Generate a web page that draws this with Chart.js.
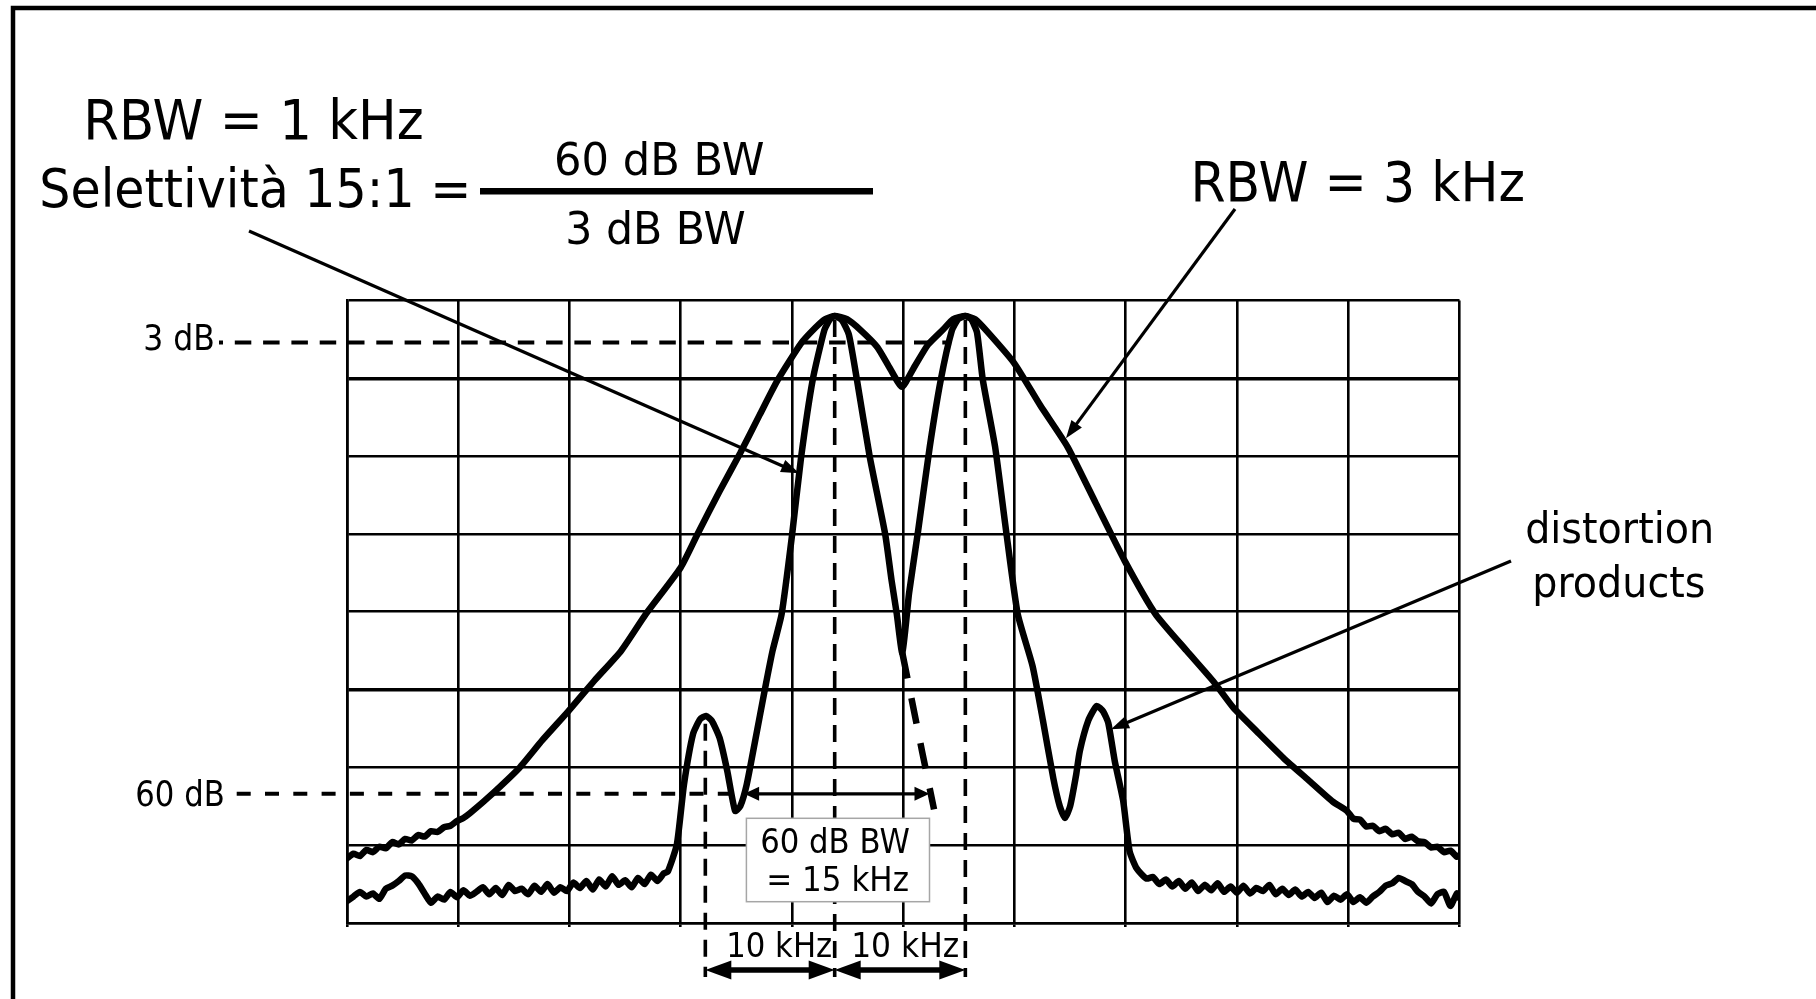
<!DOCTYPE html>
<html><head><meta charset="utf-8">
<script src="https://cdn.jsdelivr.net/npm/chart.js@4"></script>
<style>html,body{margin:0;padding:0;background:#fff;} canvas{display:block;}</style>
</head><body>
<canvas id="c" width="1816" height="999"></canvas>
<script>
// ---- Data (frequency offset in kHz, level in dB relative to the tone peaks) ----
const wideKHz = [-42.7,-42.2,-41.7,-41.2,-40.7,-40.2,-39.7,-39.2,-38.7,-38.2,-37.7,-37.2,-36.7,-36.2,-35.7,-35.2,-34.7,-34.2,-33.7,-33.2,
  -31.8,-29.4,-27.6,-25.6,-23.6,-21.5,-19.6,-16.9,-15.6,-13.9,-12.3,-10.8,-9.4,-7.6,-6.5,-5.75,-5.0,-4.05,-3.0,-1.7,-0.7,0.2,
  1.1,2.2,3.4,4.15,5.1,5.85,6.85,8.9,10.9,13.0,15.2,17.4,19.8,22.2,24.25,25.8,27.7,29.7,31.6,33.5,
  34.6,35.1,35.6,36.1,36.6,37.1,37.6,38.1,38.6,39.1,39.6,40.1,40.6,41.1,41.6,42.1,42.6,43.1,43.3];
const wideDB = [-69.7,-69.1,-69.4,-68.6,-68.9,-68.2,-68.4,-67.6,-67.9,-67.2,-67.4,-66.7,-66.9,-66.2,-66.3,-65.7,-65.5,-64.9,-64.5,-63.9,
  -61.9,-58.1,-54.5,-50.8,-46.9,-43.0,-38.3,-32.3,-28.0,-22.5,-17.6,-12.7,-8.2,-3.5,-1.5,-0.4,0.0,-0.4,-1.8,-4.0,-6.8,-9.1,
  -6.7,-3.7,-1.7,-0.4,0.0,-0.4,-2.1,-6.1,-11.5,-16.8,-24.1,-31.4,-38.3,-43.0,-46.9,-50.3,-53.5,-56.8,-59.6,-62.4,
  -63.6,-64.6,-64.7,-65.6,-65.5,-66.2,-65.9,-66.6,-66.4,-67.2,-66.9,-67.5,-67.6,-68.3,-68.2,-68.9,-68.7,-69.5,-69.3];

const narrowKHz = [-42.7,-42.2,-41.7,-41.2,-40.7,-40.2,-39.7,-39.2,-38.7,-38.2,-37.7,-37.2,-36.7,-36.2,-35.7,-35.2,-34.7,-34.2,-33.7,-33.2,
  -32.7,-32.2,-31.7,-31.2,-30.7,-30.2,-29.7,-29.2,-28.7,-28.2,-27.7,-27.2,-26.7,-26.2,-25.7,-25.2,-24.7,-24.2,-23.7,-23.2,
  -22.7,-22.2,-21.7,-21.2,-20.7,-20.2,-19.7,-19.2,-18.7,-18.2,-17.9,
  -17.2,-16.65,-15.95,-15.4,-14.95,-14.5,-13.9,-13.3,-12.7,-12.3,-11.8,-11.15,-10.4,-9.8,-9.1,-8.3,-7.6,-6.7,-5.8,-5.35,-5.0,
  -4.45,-3.9,-3.3,-2.3,-1.1,-0.6,-0.2,0.23,0.75,1.45,2.35,3.2,4.05,4.55,5.1,
  5.55,6.0,6.45,7.4,8.25,9.15,10.3,11.1,11.9,12.4,12.8,13.2,13.65,13.95,14.6,15.25,15.75,16.15,16.65,17.3,17.8,18.35,19.1,
  19.6,20.1,20.6,21.1,21.6,22.1,22.6,23.1,23.6,24.1,24.6,25.1,25.6,26.1,26.6,27.1,27.6,28.1,28.6,29.1,
  29.6,30.1,30.6,31.1,31.6,32.1,32.6,33.1,33.6,34.1,34.6,35.1,35.6,36.1,36.6,37.1,37.6,38.1,38.6,39.1,
  39.6,40.1,40.6,41.1,41.6,42.1,42.6,43.1,43.3];
const narrowDB = [-75.2,-74.6,-74.0,-74.6,-74.2,-74.9,-73.6,-73.2,-72.6,-71.9,-72.0,-72.9,-74.2,-75.4,-74.6,-75.0,-74.0,-74.7,-73.8,-74.5,
  -74.0,-73.4,-74.3,-73.5,-74.4,-73.1,-73.9,-73.6,-74.3,-73.2,-74.0,-73.0,-74.1,-73.4,-73.9,-72.8,-73.5,-72.6,-73.7,-72.4,
  -73.3,-72.0,-73.1,-72.5,-73.4,-72.2,-73.0,-71.8,-72.6,-71.6,-71.4,
  -67.9,-60.2,-53.7,-51.8,-51.4,-52.0,-54.2,-58.5,-63.6,-63.0,-60.2,-54.6,-48.0,-43.0,-38.3,-28.2,-18.2,-8.2,-1.8,-0.4,0.0,
  -0.5,-2.4,-8.0,-18.0,-28.0,-34.0,-38.3,-43.3,-35.6,-27.6,-16.8,-8.2,-1.9,-0.4,0.0,
  -0.4,-2.1,-8.2,-16.8,-27.6,-38.3,-45.0,-52.0,-59.4,-63.0,-64.5,-63.0,-59.1,-55.9,-52.0,-50.1,-50.8,-52.3,-57.2,-62.3,-68.8,-71.0,-72.3,
  -72.1,-73.0,-72.4,-73.3,-72.6,-73.6,-72.8,-73.9,-73.1,-73.8,-72.9,-74.0,-73.3,-74.1,-73.2,-74.2,-73.5,-73.9,-73.1,-74.3,
  -73.6,-74.4,-73.7,-74.6,-74.0,-74.8,-74.1,-75.3,-74.5,-75.0,-74.3,-75.3,-74.7,-75.4,-74.6,-74.0,-73.2,-72.9,-72.2,-72.6,
  -73.0,-74.0,-74.6,-75.5,-74.3,-74.0,-75.8,-74.2,-74.8];

// hidden skirt of the lower tone filter (dashed)
const skirtKHz = [0.23, 0.98, 1.75, 2.68];
const skirtDB  = [-43.3, -49.5, -55.9, -63.4];

// graticule
const xGridKHz = [-42.7,-34.1,-25.5,-16.9,-8.3,0.3,8.9,17.5,26.1,34.7,43.3];
const yGridDB  = [-78,-68,-58,-48,-38,-28,-18,-8,2];

// annotation values
const level3dB = -3.4, level3EndKHz = 4.0;
const level60dB = -61.4, bw60FromKHz = -12.0, bw60ToKHz = 2.33;
const toneKHz = [-5.0, 5.1];
const distortionKHz = -15.0, distortionPeakDB = -52.4, tonePeakDB = -0.5;
const ptrRBW1 = [-7.75, -20.2], ptrRBW3 = [12.88, -15.7], ptrDist = [16.36, -53.1];

const pts = (xs, ys) => xs.map((v, i) => ({x: v, y: ys[i]}));

function fitText(ctx, str, x1, x2, base, cap) {
  const size = cap / 0.729;
  ctx.font = size.toFixed(2) + 'px "DejaVu Sans"';
  ctx.textAlign = 'left'; ctx.textBaseline = 'alphabetic';
  const m = ctx.measureText(str);
  const ink = m.actualBoundingBoxLeft + m.actualBoundingBoxRight;
  const sx = (x2 - x1) / ink;
  ctx.save();
  ctx.translate(x1 + m.actualBoundingBoxLeft * sx, base);
  ctx.scale(sx, 1);
  ctx.fillText(str, 0, 0);
  ctx.restore();
}
function head(ctx, fx, fy, tx, ty, L, W) {
  const a = Math.atan2(ty - fy, tx - fx), c = Math.cos(a), s = Math.sin(a);
  const bx = tx - L * c, by = ty - L * s;
  ctx.beginPath();
  ctx.moveTo(tx, ty);
  ctx.lineTo(bx - W * s, by + W * c);
  ctx.lineTo(bx + W * s, by - W * c);
  ctx.closePath(); ctx.fill();
}
function pointer(ctx, fx, fy, tx, ty) {
  const L = 18, W = 6.5;
  const a = Math.atan2(ty - fy, tx - fx);
  ctx.lineWidth = 3.2; ctx.setLineDash([]);
  ctx.beginPath(); ctx.moveTo(fx, fy);
  ctx.lineTo(tx - (L - 3) * Math.cos(a), ty - (L - 3) * Math.sin(a)); ctx.stroke();
  head(ctx, fx, fy, tx, ty, L, W);
}
function dbl(ctx, x1, x2, y, lw, L, W) {
  ctx.lineWidth = lw; ctx.setLineDash([]);
  ctx.beginPath(); ctx.moveTo(x1 + L - 3, y); ctx.lineTo(x2 - L + 3, y); ctx.stroke();
  head(ctx, x2, y, x1, y, L, W);
  head(ctx, x1, y, x2, y, L, W);
}
function seg(ctx, x1, y1, x2, y2) { ctx.beginPath(); ctx.moveTo(x1, y1); ctx.lineTo(x2, y2); ctx.stroke(); }

const annot = {
  id: 'annot',
  beforeDatasetsDraw(chart) {
    const {ctx, scales: {x, y}, chartArea: a} = chart;
    ctx.save();
    ctx.strokeStyle = '#000'; ctx.lineCap = 'butt';
    ctx.lineWidth = 4;
    ctx.setLineDash([16.5, 11.8]); ctx.lineDashOffset = 12.5;
    seg(ctx, 219, y.getPixelForValue(level3dB), x.getPixelForValue(level3EndKHz), y.getPixelForValue(level3dB));
    ctx.setLineDash([14, 14.3]); ctx.lineDashOffset = 0;
    seg(ctx, 236.7, y.getPixelForValue(level60dB), x.getPixelForValue(bw60FromKHz), y.getPixelForValue(level60dB));
    ctx.lineWidth = 3.6; ctx.setLineDash([17, 10]);
    const yb = a.bottom + 54;
    seg(ctx, x.getPixelForValue(distortionKHz), y.getPixelForValue(distortionPeakDB), x.getPixelForValue(distortionKHz), yb);
    toneKHz.forEach(k => seg(ctx, x.getPixelForValue(k), y.getPixelForValue(tonePeakDB), x.getPixelForValue(k), yb));
    ctx.restore();
  },
  afterDraw(chart) {
    const {ctx, scales: {x, y}, chartArea: a} = chart;
    ctx.save();
    ctx.fillStyle = '#000'; ctx.strokeStyle = '#000';
    // pointer arrows
    pointer(ctx, 249, 231, x.getPixelForValue(ptrRBW1[0]), y.getPixelForValue(ptrRBW1[1]));
    pointer(ctx, 1235, 209, x.getPixelForValue(ptrRBW3[0]), y.getPixelForValue(ptrRBW3[1]));
    pointer(ctx, 1511, 561, x.getPixelForValue(ptrDist[0]), y.getPixelForValue(ptrDist[1]));
    // 60 dB bandwidth arrow
    dbl(ctx, x.getPixelForValue(bw60FromKHz), x.getPixelForValue(bw60ToKHz), y.getPixelForValue(level60dB), 3.4, 15, 7);
    // tone spacing arrows
    const ya = a.bottom + 47;
    dbl(ctx, x.getPixelForValue(distortionKHz), x.getPixelForValue(toneKHz[0]), ya, 5.5, 26, 9.5);
    dbl(ctx, x.getPixelForValue(toneKHz[0]), x.getPixelForValue(toneKHz[1]), ya, 5.5, 26, 9.5);
    // box
    ctx.fillStyle = '#fff'; ctx.fillRect(746.4, 818.3, 183.1, 83.4);
    ctx.strokeStyle = '#a6a6a6'; ctx.lineWidth = 1.5; ctx.setLineDash([]);
    ctx.strokeRect(746.4, 818.3, 183.1, 83.4);
    ctx.fillStyle = '#000';
    fitText(ctx, '60 dB BW', 762, 909, 853, 25);
    fitText(ctx, '= 15 kHz', 769, 908, 891, 25);
    // texts
    fitText(ctx, 'RBW = 1 kHz', 88, 422, 139, 40);
    fitText(ctx, 'Selettività 15:1 =', 42, 467, 207, 39);
    ctx.fillRect(480, 188, 393, 6.5);
    fitText(ctx, '60 dB BW', 557, 763, 175, 32);
    fitText(ctx, '3 dB BW', 568, 745, 244, 33);
    fitText(ctx, 'RBW = 3 kHz', 1195, 1523, 201, 40.5);
    fitText(ctx, 'distortion', 1527, 1711, 543, 31.5);
    fitText(ctx, 'products', 1535, 1704, 597, 31.5);
    fitText(ctx, '3 dB', 145, 213, 350, 25.5);
    fitText(ctx, '60 dB', 137, 223, 806, 25.5);
    fitText(ctx, '10 kHz', 729, 831, 957, 24);
    fitText(ctx, '10 kHz', 854, 958, 957, 24);
    // frame
    ctx.strokeStyle = '#000'; ctx.lineWidth = 4.5;
    ctx.strokeRect(13, 8, 1830, 1020);
    ctx.restore();
  }
};

const lineDs = (label, xs, ys, extra) => Object.assign({
  label, data: pts(xs, ys), borderColor: '#000', borderWidth: 6.5, pointRadius: 0,
  fill: false, tension: 0.18, borderJoinStyle: 'round', borderCapStyle: 'round'
}, extra || {});

new Chart(document.getElementById('c'), {
  type: 'line',
  data: {
    datasets: [
      lineDs('RBW = 3 kHz', wideKHz, wideDB),
      lineDs('RBW = 1 kHz', narrowKHz, narrowDB),
      lineDs('RBW = 1 kHz (hidden skirt)', skirtKHz, skirtDB, {borderDash: [26, 20], tension: 0, borderCapStyle: 'butt'})
    ]
  },
  options: {
    responsive: false, animation: false, devicePixelRatio: 1,
    layout: {padding: {left: 347, right: 356.5, top: 300.5, bottom: 72}},
    plugins: {legend: {display: false}, tooltip: {enabled: false}},
    scales: {
      x: {
        type: 'linear', min: -42.7, max: 43.3,
        afterBuildTicks: s => { s.ticks = xGridKHz.map(v => ({value: v})); },
        ticks: {display: false},
        grid: {color: '#000', lineWidth: 2.6, drawTicks: true, tickLength: 4},
        border: {display: true, color: '#000', width: 2.6}
      },
      y: {
        type: 'linear', min: -78, max: 2,
        afterBuildTicks: s => { s.ticks = yGridDB.map(v => ({value: v})); },
        ticks: {display: false},
        grid: {color: '#000', drawTicks: false,
          lineWidth: c => (c.tick && (c.tick.value === -8 || c.tick.value === -48)) ? 3.4 : 2.6},
        border: {display: true, color: '#000', width: 2.6}
      }
    }
  },
  plugins: [annot]
});
</script>
</body></html>
